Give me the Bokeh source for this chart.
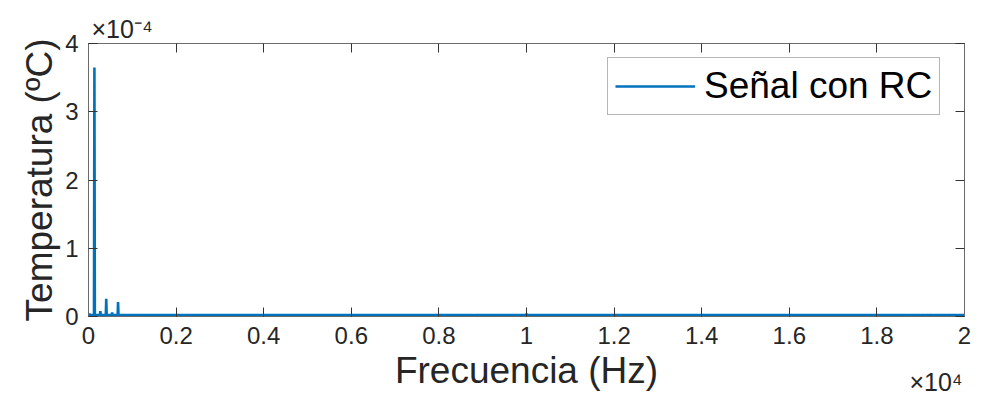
from bokeh.plotting import figure
from bokeh.models import (Range1d, FixedTicker, CustomJSTickFormatter, LinearAxis,
                          Legend, LegendItem, ColumnDataSource)
from bokeh.embed import file_html
from bokeh.resources import INLINE

# ---- data (frequency in Hz, amplitude in degC) ----
peak_freq_hz = [25, 70, 135, 270, 405, 540, 675, 810, 945, 1215, 1485, 1755, 3000,
                8800, 9500, 9700, 9850, 10000, 10150, 10350, 18700, 19000, 19300, 19600, 19850]
peak_amp_c = [0.04e-4, 0.03e-4, 3.65e-4, 0.08e-4, 0.26e-4, 0.06e-4, 0.21e-4, 0.015e-4,
              0.015e-4, 0.02e-4, 0.015e-4, 0.015e-4, 0.025e-4,
              0.01e-4, 0.015e-4, 0.02e-4, 0.025e-4, 0.04e-4, 0.02e-4, 0.015e-4,
              0.012e-4, 0.012e-4, 0.012e-4, 0.012e-4, 0.012e-4]
noise_floor_c = 0.02e-4
f_min_hz, f_max_hz = 0, 20000
x_ticks_hz = [0, 2000, 4000, 6000, 8000, 10000, 12000, 14000, 16000, 18000, 20000]
y_ticks_c = [0, 1e-4, 2e-4, 3e-4, 4e-4]
series_name = "Señal con RC"
x_label = "Frecuencia (Hz)"
y_label = "Temperatura (ºC)"
y_exponent = "×10⁻⁴"
x_exponent = "×10⁴"

# build the spectrum polyline: baseline -> spike -> baseline for each peak
half_w = 10
xs, ys = [f_min_hz], [noise_floor_c]
for f, a in zip(peak_freq_hz, peak_amp_c):
    xs += [f - half_w, f, f + half_w]
    ys += [noise_floor_c, a, noise_floor_c]
xs.append(f_max_hz)
ys.append(noise_floor_c)
src = ColumnDataSource(dict(f=xs, t=ys))

FONT = "Liberation Sans"
TXT = "#262626"
AX = "#6b6b6b"

p = figure(width=983, height=404, output_backend="svg", toolbar_location=None,
           x_range=Range1d(f_min_hz, f_max_hz), y_range=Range1d(0, 4e-4),
           min_border_left=88, min_border_right=19, min_border_top=43, min_border_bottom=88,
           background_fill_color="white", border_fill_color="white")
p.grid.visible = False
p.outline_line_color = AX
p.outline_line_width = 1

r = p.line("f", "t", source=src, line_color="#0072BD", line_width=2.6)

xfmt = CustomJSTickFormatter(code="return String(Number((tick/1e4).toFixed(2)));")
yfmt = CustomJSTickFormatter(code="return String(Math.round(tick*1e4));")
blank = CustomJSTickFormatter(code="return '';")

def style(ax, ticks, fmt, show_labels):
    ax.ticker = FixedTicker(ticks=ticks)
    ax.axis_line_color = AX
    ax.major_tick_line_color = "#333333"
    ax.major_tick_in = 9
    ax.major_tick_out = 0
    ax.minor_tick_line_color = None
    if show_labels:
        ax.formatter = fmt
        ax.major_label_text_font = FONT
        ax.major_label_text_font_size = "24px"
        ax.major_label_text_color = TXT
        ax.major_label_standoff = 10
    else:
        ax.formatter = blank
        ax.major_label_standoff = 0

style(p.xaxis[0], x_ticks_hz, xfmt, True)
style(p.yaxis[0], y_ticks_c, yfmt, True)
p.xaxis[0].axis_label = x_label
p.yaxis[0].axis_label = y_label
for ax, st in ((p.xaxis[0], 3), (p.yaxis[0], 2)):
    ax.axis_label_text_font = FONT
    ax.axis_label_text_font_size = "37px"
    ax.axis_label_text_font_style = "normal"
    ax.axis_label_text_color = TXT
    ax.axis_label_standoff = st

top_ax = LinearAxis()
right_ax = LinearAxis()
style(top_ax, x_ticks_hz, xfmt, False)
style(right_ax, y_ticks_c, yfmt, False)
p.add_layout(top_ax, "above")
p.add_layout(right_ax, "right")

# y exponent as the (left aligned) title above the frame
p.title.text = y_exponent
p.title.align = "left"
p.title.offset = 3
p.title.standoff = 1
p.title.text_font = FONT
p.title.text_font_size = "25px"
p.title.text_font_style = "normal"
p.title.text_color = TXT

# x exponent: single tick label of a bare axis under the main x axis,
# centred at a screen-position anchor near the right end of the frame
exp_anchor_hz = 19350
exp_ax = LinearAxis(ticker=FixedTicker(ticks=[exp_anchor_hz]),
                    formatter=CustomJSTickFormatter(code="return '%s';" % x_exponent))
exp_ax.axis_line_color = None
exp_ax.major_tick_line_color = None
exp_ax.minor_tick_line_color = None
exp_ax.major_tick_in = 0
exp_ax.major_tick_out = 0
exp_ax.major_label_standoff = -26
exp_ax.major_label_text_font = FONT
exp_ax.major_label_text_font_size = "25px"
exp_ax.major_label_text_color = TXT
p.add_layout(exp_ax, "below")

legend = Legend(items=[LegendItem(label=series_name, renderers=[r])],
                location=(519, 201), margin=0, padding=7, glyph_width=80,
                glyph_height=20, label_standoff=9,
                label_text_font=FONT, label_text_font_size="37px",
                label_text_color="#000000",
                border_line_color=AX, border_line_width=1,
                background_fill_color="white", background_fill_alpha=1)
p.add_layout(legend)

open("out.html", "w").write(file_html(p, INLINE))
